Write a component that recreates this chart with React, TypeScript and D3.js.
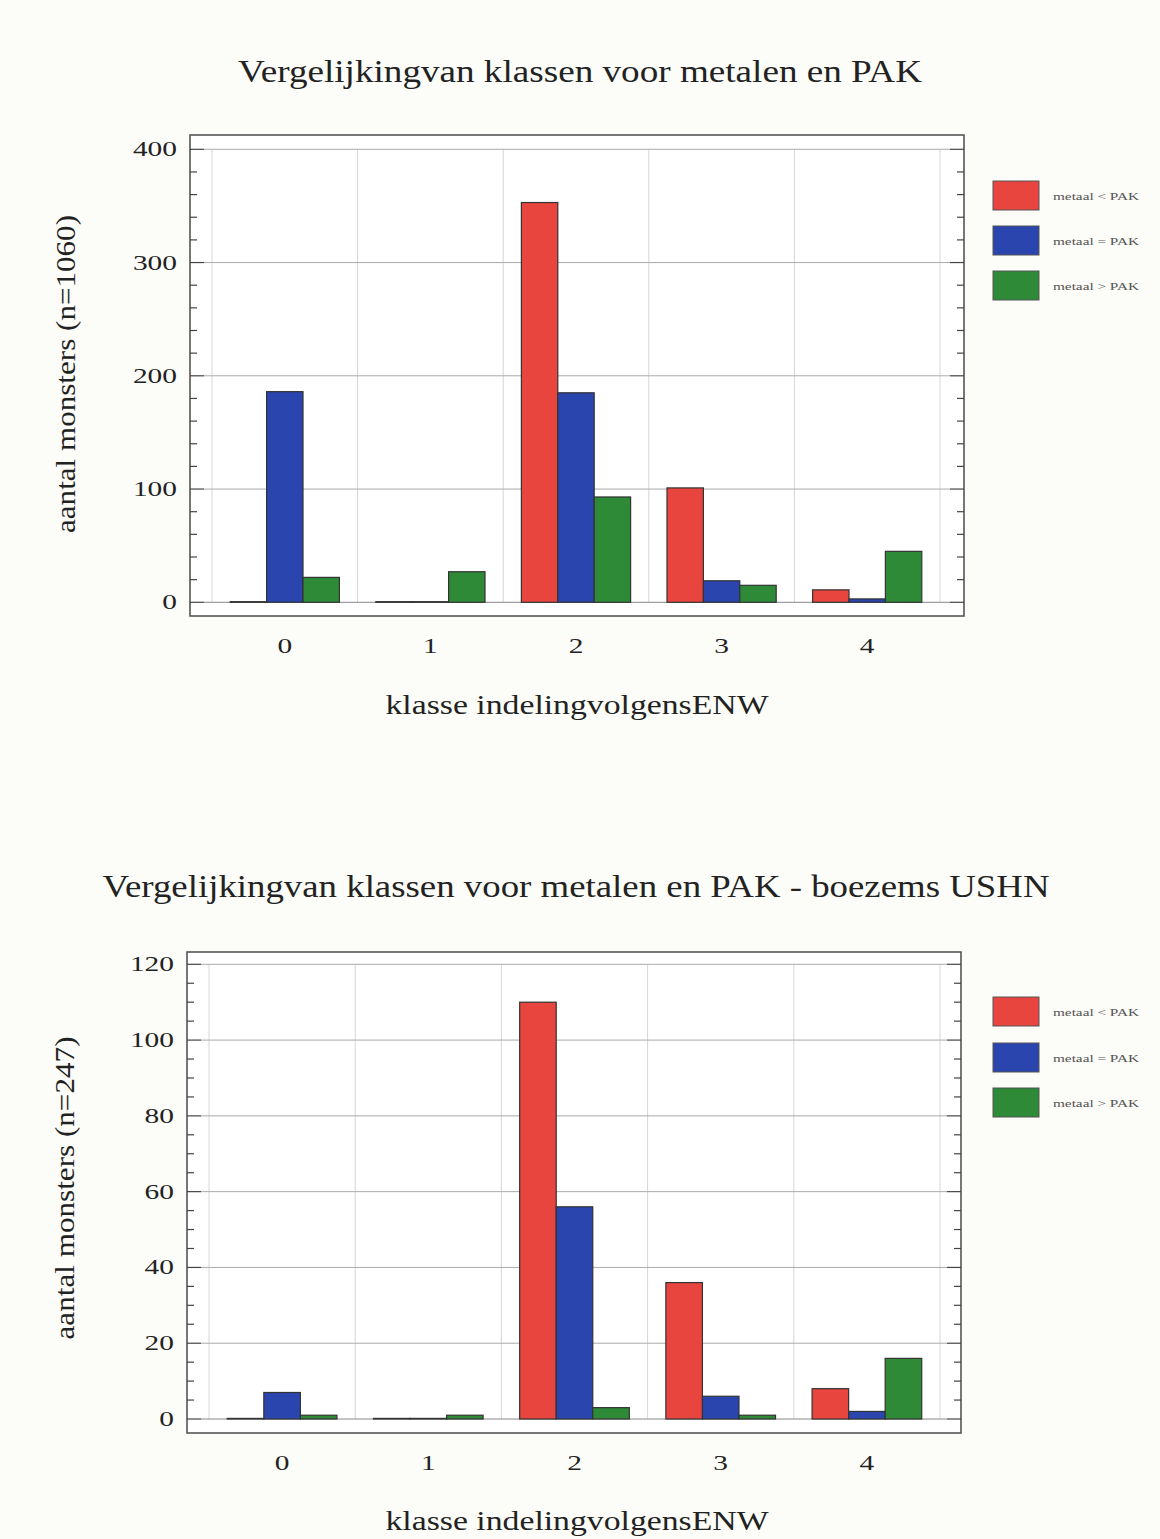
import React from "react";
import * as d3 from "d3";

const categories = ["0", "1", "2", "3", "4"];
const seriesNames = ["metaal < PAK", "metaal = PAK", "metaal > PAK"];
const seriesColors = ["#e8453f", "#2a45ae", "#2e8a37"];

// Chart 1 (n=1060)
const top_lt = [0, 0, 353, 101, 11];
const top_eq = [186, 0, 185, 19, 3];
const top_gt = [22, 27, 93, 15, 45];
const topYTicks = [0, 100, 200, 300, 400];

// Chart 2 (n=247)
const bot_lt = [0, 0, 110, 36, 8];
const bot_eq = [7, 0, 56, 6, 2];
const bot_gt = [1, 1, 3, 1, 16];
const botYTicks = [0, 20, 40, 60, 80, 100, 120];

const FONT = "'Liberation Serif', 'Times New Roman', Times, serif";
const STRETCH = 1.4;

type ChartProps = {
  series: number[][];
  yTicks: number[];
  minorStep: number;
  frame: { x: number; y: number; w: number; h: number };
  plotX: [number, number];
  plotY: [number, number];
  title: string;
  titleX: number;
  titleY: number;
  titleLen: number;
  yLabel: string;
  yLabelX: number;
  yLabelY: number;
  yLabelLen: number;
  tickLabelX: number;
  xTickY: number;
  xTitleY: number;
  legendY: number[];
};

function Chart(p: ChartProps) {
  const yMax = p.yTicks[p.yTicks.length - 1];
  const y = d3.scaleLinear().domain([0, yMax]).range(p.plotY);
  const xb = d3.scaleBand<string>().domain(categories).range(p.plotX).padding(0);
  const inner = d3
    .scaleBand<string>()
    .domain(seriesNames)
    .range([0, xb.bandwidth()])
    .paddingInner(0)
    .paddingOuter(0.5);
  const minorTicks = d3.range(0, yMax + 0.001, p.minorStep);
  const fx0 = p.frame.x;
  const fx1 = p.frame.x + p.frame.w;
  const boundaries = categories.map((c) => xb(c) as number).concat([p.plotX[1]]);
  return (
    <g>
      <text
        x={p.titleX}
        y={p.titleY}
        textAnchor="middle"
        fontFamily={FONT}
        fontSize={31}
        fill="#222"
        textLength={p.titleLen}
        lengthAdjust="spacingAndGlyphs"
      >
        {p.title}
      </text>
      <rect x={p.frame.x} y={p.frame.y} width={p.frame.w} height={p.frame.h} fill="#ffffff" stroke="#555" strokeWidth={1.6} />
      {boundaries.map((bx, i) => (
        <line key={"vg" + i} x1={bx} x2={bx} y1={y(yMax)} y2={y(0)} stroke="#d6d6d6" strokeWidth={1} />
      ))}
      {p.yTicks.map((t) => (
        <line key={"hg" + t} x1={fx0 + 14} x2={fx1 - 14} y1={y(t)} y2={y(t)} stroke={t === 0 ? "#888" : "#aaa"} strokeWidth={1} />
      ))}
      {minorTicks.map((t) => {
        const major = p.yTicks.includes(t);
        const len = major ? 14 : 7;
        return (
          <g key={"tk" + t}>
            <line x1={fx0} x2={fx0 + len} y1={y(t)} y2={y(t)} stroke="#444" strokeWidth={1.2} />
            <line x1={fx1 - len} x2={fx1} y1={y(t)} y2={y(t)} stroke="#444" strokeWidth={1.2} />
          </g>
        );
      })}
      {categories.map((c, ci) => (
        <g key={"c" + c} transform={`translate(${xb(c)},0)`}>
          {seriesNames.map((s, si) => {
            const v = p.series[si][ci];
            const h = Math.max(y(0) - y(v), 0.6);
            return (
              <rect
                key={s}
                x={inner(s)}
                y={y(0) - h}
                width={inner.bandwidth()}
                height={h}
                fill={v === 0 ? "#444" : seriesColors[si]}
                stroke="#333"
                strokeWidth={1.2}
              />
            );
          })}
        </g>
      ))}
      {p.yTicks.map((t) => (
        <text
          key={"yl" + t}
          transform={`translate(${p.tickLabelX},${y(t) + 7}) scale(${STRETCH},1)`}
          textAnchor="end"
          fontFamily={FONT}
          fontSize={21}
          fill="#222"
        >
          {t}
        </text>
      ))}
      {categories.map((c) => (
        <text
          key={"xl" + c}
          transform={`translate(${(xb(c) as number) + xb.bandwidth() / 2},${p.xTickY}) scale(${STRETCH},1)`}
          textAnchor="middle"
          fontFamily={FONT}
          fontSize={21}
          fill="#222"
        >
          {c}
        </text>
      ))}
      <text
        x={577}
        y={p.xTitleY}
        textAnchor="middle"
        fontFamily={FONT}
        fontSize={27}
        fill="#222"
        textLength={383}
        lengthAdjust="spacingAndGlyphs"
      >
        klasse indelingvolgensENW
      </text>
      <text
        transform={`translate(${p.yLabelX},${p.yLabelY}) scale(${STRETCH},1) rotate(-90)`}
        textAnchor="middle"
        fontFamily={FONT}
        fontSize={19}
        fill="#222"
        textLength={p.yLabelLen}
        lengthAdjust="spacingAndGlyphs"
      >
        {p.yLabel}
      </text>
      {seriesNames.map((s, si) => (
        <g key={"lg" + s} transform={`translate(993,${p.legendY[si]})`}>
          <rect x={0} y={0} width={46} height={29} fill={seriesColors[si]} stroke="#555" strokeWidth={1} />
          <text x={60} y={19} fontFamily={FONT} fontSize={10} fill="#555" textLength={86} lengthAdjust="spacingAndGlyphs">
            {s}
          </text>
        </g>
      ))}
    </g>
  );
}

export default function App() {
  return (
    <div style={{ position: "absolute", left: 0, top: 0 }}>
      <svg width={1160} height={1539} style={{ display: "block", background: "#fcfcf8" }}>
        <rect x={0} y={0} width={1160} height={1539} fill="#fcfcf8" />
        <Chart
          series={[top_lt, top_eq, top_gt]}
          yTicks={topYTicks}
          minorStep={20}
          frame={{ x: 190, y: 135, w: 774, h: 481 }}
          plotX={[212, 940]}
          plotY={[602.3, 149.3]}
          title="Vergelijkingvan klassen voor metalen en PAK"
          titleX={580}
          titleY={82}
          titleLen={684}
          yLabel="aantal monsters (n=1060)"
          yLabelX={75}
          yLabelY={374}
          yLabelLen={318}
          tickLabelX={177}
          xTickY={653}
          xTitleY={714}
          legendY={[181, 226, 271]}
        />
        <Chart
          series={[bot_lt, bot_eq, bot_gt]}
          yTicks={botYTicks}
          minorStep={5}
          frame={{ x: 187, y: 952, w: 774, h: 481 }}
          plotX={[209, 940]}
          plotY={[1419, 964.3]}
          title="Vergelijkingvan klassen voor metalen en PAK - boezems USHN"
          titleX={576}
          titleY={897}
          titleLen={947}
          yLabel="aantal monsters (n=247)"
          yLabelX={74}
          yLabelY={1188}
          yLabelLen={303}
          tickLabelX={174}
          xTickY={1470}
          xTitleY={1530}
          legendY={[997, 1043, 1088]}
        />
      </svg>
    </div>
  );
}
